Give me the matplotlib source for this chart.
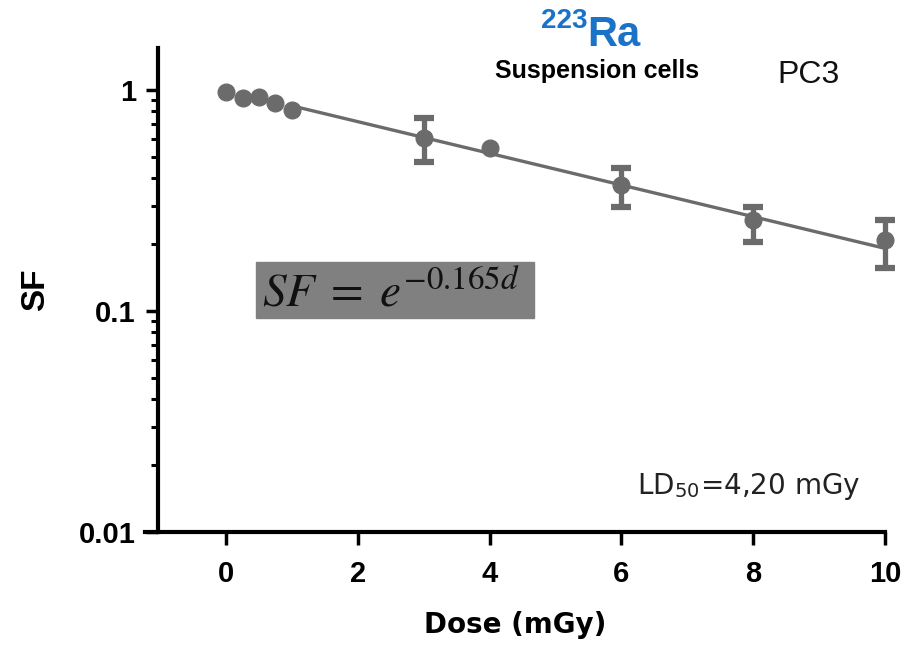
import matplotlib
matplotlib.use("Agg")
import matplotlib.pyplot as plt
import matplotlib.ticker as mticker
import numpy as np

# data
dose = [0, 0.25, 0.5, 0.75, 1.0, 3, 4, 6, 8, 10]
sf = [0.98, 0.92, 0.93, 0.873, 0.812, 0.606, 0.546, 0.372, 0.258, 0.21]
sf_hi = [np.nan, np.nan, np.nan, np.nan, np.nan, 0.747, np.nan, 0.444, 0.296, 0.258]
sf_lo = [np.nan, np.nan, np.nan, np.nan, np.nan, 0.472, np.nan, 0.296, 0.205, 0.156]
fit_k = 0.165
fit_range = (1.0, 10.0)

gray = "#6b6b6b"
plt.rcParams["mathtext.fontset"] = "stix"

fig = plt.figure(figsize=(9.11, 6.49), dpi=100)
ax = fig.add_axes([145 / 911, (649 - 532) / 649, 740 / 911, 484 / 649])

d = np.array(dose)
y = np.array(sf)
hi = np.array(sf_hi)
lo = np.array(sf_lo)
has_err = ~np.isnan(hi)

# fitted curve SF = exp(-k d)
xf = np.linspace(fit_range[0], fit_range[1], 50)
ax.plot(xf, np.exp(-fit_k * xf), color=gray, lw=2.4, zorder=2)

eb = ax.errorbar(d[has_err], y[has_err], yerr=[y[has_err] - lo[has_err], hi[has_err] - y[has_err]],
                 fmt="none", ecolor=gray, elinewidth=3.8, capsize=7, capthick=4.5, zorder=3)
for art in eb.lines[1] + eb.lines[2]:
    art.set_clip_on(False)
ax.plot(d, y, "o", color=gray, ms=12, mec=gray, zorder=4, clip_on=False)

ax.set_yscale("log")
ax.set_ylim(0.01, 10 ** 0.19)
ax.set_xlim(-1.23, 10)
ax.set_xticks([0, 2, 4, 6, 8, 10])
ax.set_yticks([0.01, 0.1, 1])
ax.yaxis.set_major_formatter(mticker.FixedFormatter(["0.01", "0.1", "1"]))
ax.yaxis.set_minor_locator(mticker.LogLocator(base=10, subs=np.arange(2, 10)))
ax.yaxis.set_minor_formatter(mticker.NullFormatter())

ax.spines["left"].set_position(("data", -1.03))
for s in ["top", "right"]:
    ax.spines[s].set_visible(False)
for s in ["left", "bottom"]:
    ax.spines[s].set_linewidth(3)
ax.tick_params(which="major", length=9, width=2.5, direction="out")
ax.tick_params(axis="x", which="major", pad=11)
ax.tick_params(axis="y", which="major", pad=7)
ax.tick_params(which="minor", length=5, width=2.2, direction="out")
for lab in ax.get_xticklabels() + ax.get_yticklabels():
    lab.set_fontfamily("Liberation Sans")
    lab.set_fontweight("bold")
    lab.set_fontsize(21)

ax.set_xlabel("Dose (mGy)", fontsize=20, fontweight="bold", family="DejaVu Sans", labelpad=17)
ax.set_ylabel("SF", fontsize=24, fontweight="bold", family="Liberation Sans", labelpad=20)

# titles
fig.text(587 / 911, 1 - 46 / 649, "Ra", color="#1a73c6", fontsize=30, fontweight="bold",
         family="Liberation Sans", ha="left", va="baseline")
fig.text(588 / 911, 1 - 28 / 649, "223", color="#1a73c6", fontsize=20, fontweight="bold",
         family="Liberation Sans", ha="right", va="baseline")
fig.text(597 / 911, 1 - 78 / 649, "Suspension cells", fontsize=18, fontweight="bold",
         family="Liberation Sans", ha="center", va="baseline")
fig.text(777 / 911, 1 - 83 / 649, "PC3", fontsize=23, family="Liberation Sans",
         ha="left", va="baseline", color="#111111")

# formula box
fig.patches.append(plt.Rectangle((256 / 911, 1 - 318 / 649), 278 / 911, 56 / 649,
                                 transform=fig.transFigure, color="#808080", zorder=1))
fig.text(262 / 911, 1 - 306 / 649, r"$SF\;=\;e^{-0.165d}$", fontsize=34,
         ha="left", va="baseline", color="#111111", zorder=2)

fig.text(637 / 911, 1 - 494 / 649, r"LD$_{\mathregular{50}}$=4,20 mGy", fontsize=20,
         family="DejaVu Sans", ha="left", va="baseline", color="#222222")

fig.savefig("out.png", dpi=100)
